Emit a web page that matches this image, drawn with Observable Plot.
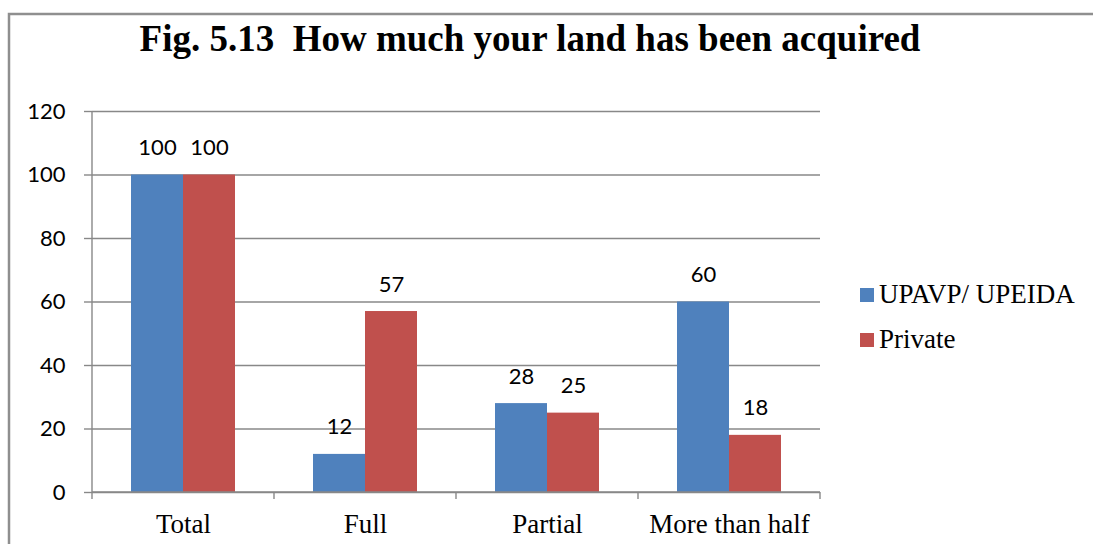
<!DOCTYPE html>
<html>
<head>
<meta charset="utf-8">
<script src="https://cdn.jsdelivr.net/npm/d3@7"></script>
<script src="https://cdn.jsdelivr.net/npm/@observablehq/plot@0.6"></script>
<style>
  html, body { margin: 0; padding: 0; background: white; }
  #chart { width: 1093px; height: 544px; position: relative; overflow: hidden; }
</style>
</head>
<body>
<div id="chart"></div>
<script>
const titleText = "Fig. 5.13\u00a0\u00a0How much your land has been acquired";
const categories = ["Total", "Full", "Partial", "More than half"];
const seriesNames = ["UPAVP/ UPEIDA", "Private"];
const upavpValues = [100, 12, 28, 60];
const privateValues = [100, 57, 25, 18];
const yTicks = [0, 20, 40, 60, 80, 100, 120];
const colors = ["#4F81BD", "#C0504D"];

const rows = categories.flatMap((c, i) => [
  {cat: c, series: seriesNames[0], value: upavpValues[i]},
  {cat: c, series: seriesNames[1], value: privateValues[i]}
]);

const gridColor = "#888888";

const chart = Plot.plot({
  width: 1093,
  height: 544,
  marginLeft: 92,
  marginRight: 273,
  marginTop: 111,
  marginBottom: 52,
  style: {background: "white", overflow: "visible"},
  fx: {domain: categories, paddingInner: 0, paddingOuter: 0, label: null},
  x: {domain: seriesNames, paddingInner: 0, paddingOuter: 0.75, axis: null},
  y: {domain: [0, 120], label: null},
  color: {domain: seriesNames, range: colors},
  marks: [
    Plot.gridY(yTicks, {stroke: gridColor, strokeOpacity: 1, strokeWidth: 1.4}),
    Plot.barY(rows, {fx: "cat", x: "series", y: "value", fill: "series"}),
    Plot.text(rows, {
      fx: "cat", x: "series", y: "value", text: d => String(d.value),
      dy: -27, lineAnchor: "middle", fontSize: 22, fontFamily: "Lato", fill: "black"
    }),
    Plot.axisY(yTicks, {
      tickSize: 8, tickPadding: 19, fontSize: 22, fontFamily: "Lato",
      stroke: gridColor, strokeWidth: 1.4, fill: "black", label: null
    }),
    Plot.axisFx({
      anchor: "bottom", tickSize: 0, tickPadding: 21, fontSize: 27,
      fontFamily: "Liberation Serif", fill: "black", label: null
    })
  ]
});

document.getElementById("chart").appendChild(chart);

const svg = d3.select(chart);
const fx = chart.scale("fx");
const y = chart.scale("y");
const bw = fx.bandwidth;
const xStart = fx.apply(categories[0]);
const xEnd = fx.apply(categories[categories.length - 1]) + bw;
const yTop = y.apply(yTicks[yTicks.length - 1]);
const yZero = y.apply(0);

const g = svg.append("g").attr("stroke", gridColor).attr("stroke-width", 1.4);
// y axis line
g.append("line").attr("x1", xStart).attr("x2", xStart).attr("y1", yTop).attr("y2", yZero);
// x axis line
g.append("line").attr("x1", xStart).attr("x2", xEnd).attr("y1", yZero).attr("y2", yZero);
// category boundary ticks
const bounds = categories.map(c => fx.apply(c)).concat([xEnd]);
g.selectAll("line.b").data(bounds).join("line").attr("class", "b")
  .attr("x1", d => d).attr("x2", d => d).attr("y1", yZero).attr("y2", yZero + 7);

// outer frame (left and top edges visible)
svg.append("path")
  .attr("d", "M9,560V14H1100")
  .attr("fill", "none").attr("stroke", "#8f8f8f").attr("stroke-width", 2.5);

// title
svg.append("text")
  .attr("x", 530).attr("y", 51)
  .attr("text-anchor", "middle")
  .attr("font-family", "Liberation Serif")
  .attr("font-weight", "bold")
  .attr("font-size", 37)
  .attr("fill", "black")
  .text(titleText);

// legend
const legend = svg.append("g").attr("text-anchor", "start");
const legendY = [288, 333];
seriesNames.forEach((s, i) => {
  legend.append("rect").attr("x", 860).attr("y", legendY[i]).attr("width", 14).attr("height", 14).attr("fill", colors[i]);
  legend.append("text").attr("x", 879).attr("y", legendY[i] + 15)
    .attr("text-anchor", "start")
    .attr("font-family", "Liberation Serif").attr("font-size", 27).attr("fill", "black")
    .text(s);
});
</script>
</body>
</html>
